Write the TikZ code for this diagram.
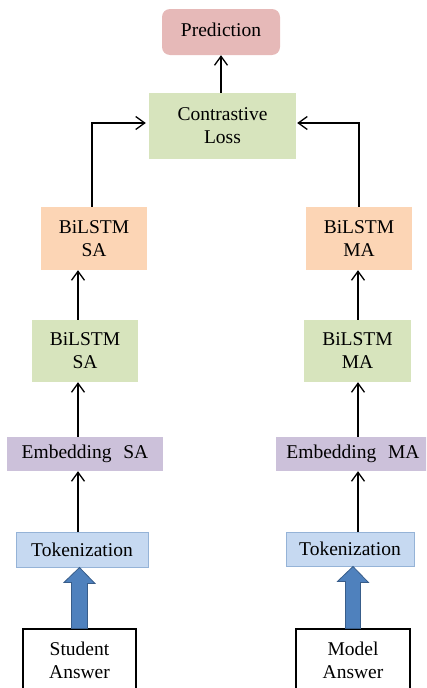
\documentclass[tikz,border=0pt]{standalone}
\usepackage{fontspec}
\setmainfont{Liberation Serif}
\usetikzlibrary{arrows.meta}

\definecolor{predfill}{HTML}{E6B9B8}
\definecolor{greenfill}{HTML}{D7E4BD}
\definecolor{orangefill}{HTML}{FCD5B5}
\definecolor{purplefill}{HTML}{CCC1DA}
\definecolor{tokfill}{HTML}{C6D9F1}
\definecolor{tokline}{HTML}{95B3D7}
\definecolor{bigarrowfill}{HTML}{4F81BD}
\definecolor{bigarrowline}{HTML}{385D8A}

\tikzset{
  lbl/.style={font=\fontsize{19.5}{23}\selectfont, align=center, inner sep=0pt},
  box/.style={lbl, draw=none},
  greenbox/.style={box, fill=greenfill},
  orangebox/.style={box, fill=orangefill},
  purplebox/.style={box, fill=purplefill},
  tokbox/.style={box, fill=tokfill, draw=tokline, line width=1pt},
  inbox/.style={lbl, draw=black, line width=1.2pt, fill=white},
  arr/.style={draw=black, line width=1.3pt, -{Straight Barb[length=9pt,width=13pt,line width=1.3pt]}},
  bigarrow/.style={fill=bigarrowfill, draw=bigarrowline, line width=0.8pt}
}

\begin{document}
\begin{tikzpicture}[x=1pt, y=-1pt]
  \useasboundingbox (0,0) rectangle (426,688);
  \clip (0,0) rectangle (426,688);

  % output stage
  \node[lbl, fill=predfill, rounded corners=8pt, minimum width=118pt, minimum height=46pt, text depth=4pt]
    (pred) at (221,32) {Prediction};
  \node[greenbox, minimum width=147pt, minimum height=66pt]
    (loss) at (222.5,126) {Contrastive\\Loss};

  % student answer column
  \node[orangebox, minimum width=106pt, minimum height=63pt] (oSA) at (94,238.5) {BiLSTM\\SA};
  \node[greenbox, minimum width=106pt, minimum height=62pt] (gSA) at (85,351) {BiLSTM\\SA};
  \node[purplebox, minimum width=156pt, minimum height=34pt] (eSA) at (85,454) {Embedding\hspace{0.6em}SA};
  \node[tokbox, minimum width=132pt, minimum height=35pt] (tSA) at (82,549.5) {Tokenization};
  \node[inbox, minimum width=113pt, minimum height=70pt, text depth=8pt] (sA) at (79.5,664) {Student\\Answer};

  % model answer column
  \node[orangebox, minimum width=106pt, minimum height=63pt] (oMA) at (359,238.5) {BiLSTM\\MA};
  \node[greenbox, minimum width=107pt, minimum height=62pt] (gMA) at (357.5,351) {BiLSTM\\MA};
  \node[purplebox, minimum width=154pt, minimum height=34pt] (eMA) at (353,454) {Embedding\hspace{0.6em}MA};
  \node[tokbox, minimum width=128pt, minimum height=34pt] (tMA) at (350,549) {Tokenization};
  \node[inbox, minimum width=114pt, minimum height=70pt, text depth=8pt] (mA) at (353,664) {Model\\Answer};

  % column lines
  \coordinate (cl) at (78,0);
  \coordinate (cl2) at (92,0);
  \coordinate (cr) at (358,0);
  \coordinate (cr2) at (359,0);

  % connectors
  \draw[arr] (loss.north -| pred) -- (pred.south);
  \draw[arr] (oSA.north -| cl2) |- ([xshift=-3pt,yshift=3pt]loss.west);
  \draw[arr] (oMA.north -| cr2) |- ([xshift=1pt,yshift=3pt]loss.east);

  \draw[arr] (gSA.north -| cl) -- (oSA.south -| cl);
  \draw[arr] (eSA.north -| cl) -- (gSA.south -| cl);
  \draw[arr] (tSA.north -| cl) -- (eSA.south -| cl);

  \draw[arr] (gMA.north -| cr) -- (oMA.south -| cr);
  \draw[arr] (eMA.north -| cr) -- (gMA.south -| cr);
  \draw[arr] (tMA.north -| cr) -- (eMA.south -| cr);

  % block arrows from the inputs to the tokenizers
  \draw[bigarrow] ([xshift=-8pt]sA.north) -- ++(0,-46) -- ++(-7.5,0) -- (tSA.south -| sA) -- ++(15.5,16) -- ++(-7.5,0) -- ([xshift=8pt]sA.north) -- cycle;
  \draw[bigarrow] ([xshift=-7.5pt]mA.north) -- ++(0,-47) -- ++(-8,0) -- (tMA.south -| mA) -- ++(15.5,16) -- ++(-8,0) -- ([xshift=7.5pt]mA.north) -- cycle;
\end{tikzpicture}
\end{document}
